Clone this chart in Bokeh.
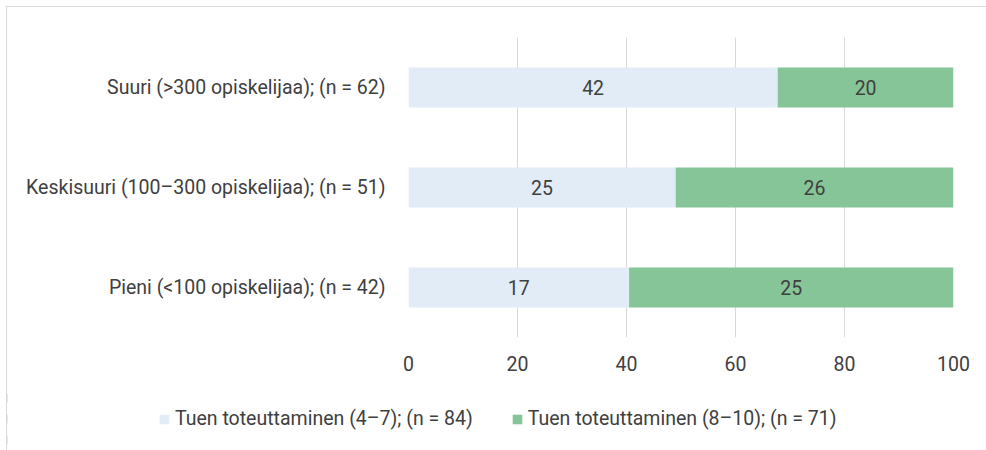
from bokeh.plotting import figure
from bokeh.layouts import column
from bokeh.core.properties import value
from bokeh.models import ColumnDataSource, Legend, LegendItem, FixedTicker, LabelSet, Range1d
from bokeh.embed import file_html
from bokeh.resources import INLINE

categories = ["Pieni (<100 opiskelijaa); (n = 42)",
              "Keskisuuri (100–300 opiskelijaa); (n = 51)",
              "Suuri (>300 opiskelijaa); (n = 62)"]
low_counts = [17, 25, 42]
high_counts = [25, 26, 20]
series_names = ["Tuen toteuttaminen (4–7); (n = 84)", "Tuen toteuttaminen (8–10); (n = 71)"]
x_ticks = [0, 20, 40, 60, 80, 100]

FONT = "Roboto"
FS = "19.5px"
TXT = "#404040"
C_LOW = "#E2ECF7"
C_HIGH = "#86C597"

totals = [a + b for a, b in zip(low_counts, high_counts)]
low_pct = [100 * a / t for a, t in zip(low_counts, totals)]
high_pct = [100 * b / t for b, t in zip(high_counts, totals)]

src = ColumnDataSource(dict(
    cat=categories,
    low_end=low_pct,
    high_start=low_pct,
    high_end=[l + h for l, h in zip(low_pct, high_pct)],
    low_mid=[l / 2 for l in low_pct],
    high_mid=[l + h / 2 for l, h in zip(low_pct, high_pct)],
    low_lbl=[str(v) for v in low_counts],
    high_lbl=[str(v) for v in high_counts],
    zero=[0] * 3,
))

W = 979
p = figure(y_range=categories, x_range=(0, 100), width=W, height=380,
           output_backend="svg", toolbar_location=None,
           min_border_left=401, min_border_right=33, min_border_top=30, min_border_bottom=50)

p.hbar(y="cat", left="zero", right="low_end", height=0.4, source=src,
       fill_color=C_LOW, line_color=None)
p.hbar(y="cat", left="high_start", right="high_end", height=0.4, source=src,
       fill_color=C_HIGH, line_color=None)

for col_x, col_t in (("low_mid", "low_lbl"), ("high_mid", "high_lbl")):
    p.add_layout(LabelSet(x=col_x, y="cat", text=col_t, source=src,
                          text_align="center", text_baseline="middle",
                          text_font=value(FONT), text_font_size=value(FS), text_color=TXT))

p.outline_line_color = None
p.ygrid.grid_line_color = None
p.xgrid.grid_line_color = "#d9d9d9"
p.xgrid.grid_line_width = 1
p.xaxis.ticker = FixedTicker(ticks=x_ticks)
for ax in (p.xaxis[0], p.yaxis[0]):
    ax.axis_line_color = None
    ax.major_tick_line_color = None
    ax.minor_tick_line_color = None
    ax.major_label_text_font = FONT
    ax.major_label_text_font_size = FS
    ax.major_label_text_color = TXT
p.xaxis.major_label_standoff = 12
p.yaxis.major_label_standoff = 17

# legend strip: same series drawn out of view, only the legend is visible
q = figure(y_range=categories, x_range=Range1d(200, 300), width=W, height=63,
           output_backend="svg", toolbar_location=None,
           x_axis_location=None, y_axis_location=None,
           min_border_left=0, min_border_right=0, min_border_top=0, min_border_bottom=0)
q.frame_align = False
q.outline_line_color = None
q.grid.visible = False
l1 = q.hbar(y="cat", left="zero", right="low_end", height=0.4, source=src,
            fill_color=C_LOW, line_color=None)
l2 = q.hbar(y="cat", left="high_start", right="high_end", height=0.4, source=src,
            fill_color=C_HIGH, line_color=None)
legend = Legend(items=[LegendItem(label=series_names[0], renderers=[l1]),
                       LegendItem(label=series_names[1], renderers=[l2])],
                orientation="horizontal", location=(151, 20),
                label_text_font=FONT, label_text_font_size=FS, label_text_color=TXT,
                glyph_width=12, glyph_height=12, spacing=38, label_standoff=5,
                background_fill_alpha=0, border_line_color=None, padding=0, margin=0)
q.add_layout(legend, "center")
p.frame_align = False

page = column(p, q, spacing=0)
page.styles = {"border-left": "1px solid #d9d9d9", "border-top": "1px solid #d9d9d9",
               "margin-left": "6px", "margin-top": "6px"}

open("out.html", "w").write(file_html(page, INLINE))
